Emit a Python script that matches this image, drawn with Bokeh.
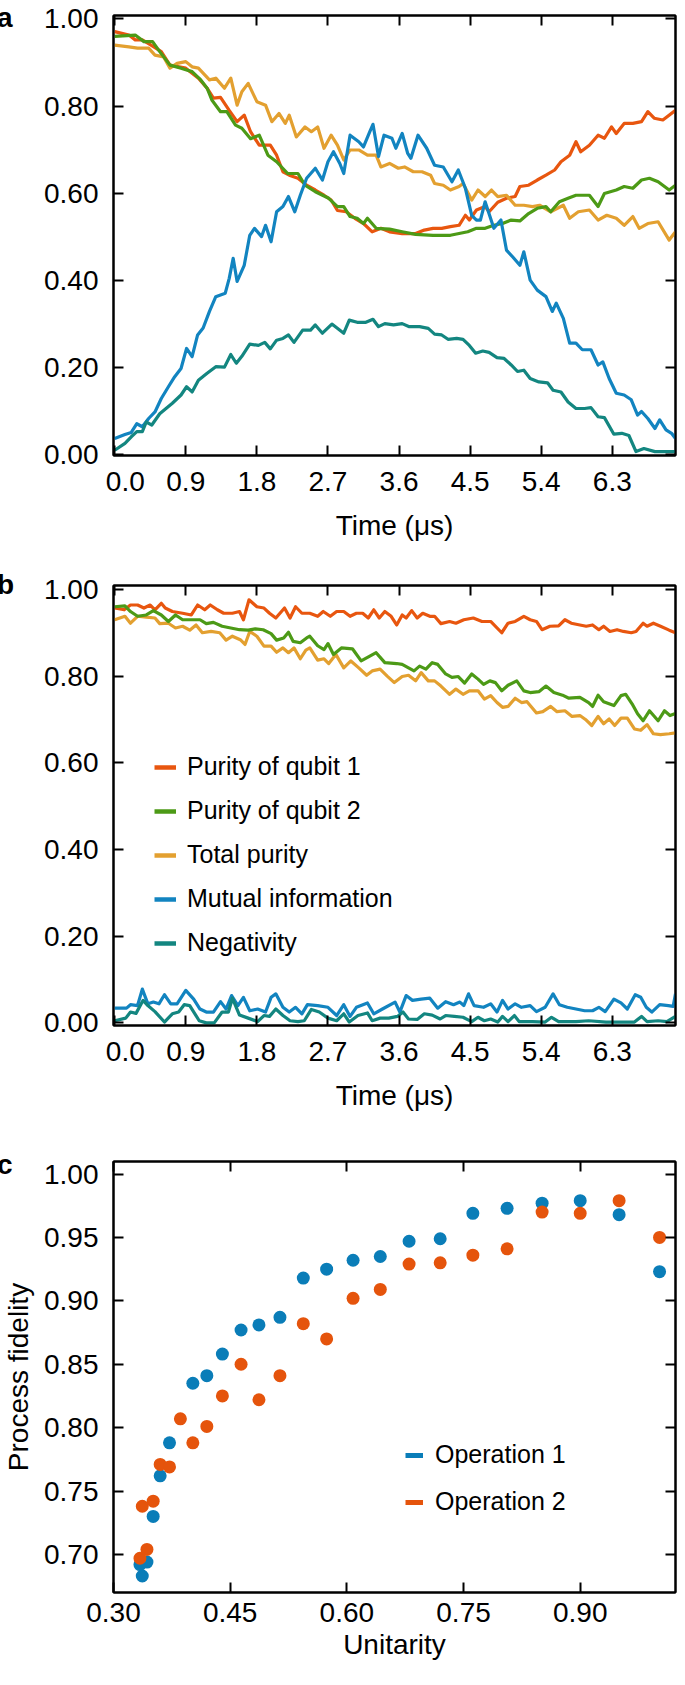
from bokeh.plotting import figure
from bokeh.models import (LinearAxis, FixedTicker, NumeralTickFormatter, Range1d,
                          Legend, LegendItem, Div)
from bokeh.layouts import column
from bokeh.embed import file_html
from bokeh.resources import INLINE

FONT = "Liberation Sans"
NAN = float("nan")

C_Q1 = "#E8560F"
C_Q2 = "#4C9A16"
C_TOT = "#E3A030"
C_MI = "#1284C0"
C_NEG = "#138680"
C_OP1 = "#0A7DB8"
C_OP2 = "#E5540C"

# ---------------- panel a: (time in us, value) ----------------
A_Q1 = [(0.00,0.971),(0.18,0.963),(0.26,0.952),(0.35,0.952),(0.46,0.940),(0.59,0.925),(0.70,0.894),(0.90,0.887),
        (1.06,0.864),(1.17,0.841),(1.25,0.818),(1.34,0.820),(1.45,0.790),(1.55,0.764),(1.64,0.779),(1.72,0.741),
        (1.83,0.710),(1.97,0.710),(2.05,0.687),(2.13,0.649),(2.21,0.641),(2.32,0.634),(2.43,0.618),(2.54,0.607),
        (2.65,0.595),(2.74,0.584),(2.82,0.560),(2.93,0.557),(3.04,0.542),(3.15,0.530),(3.26,0.511),(3.37,0.519),
        (3.48,0.511),(3.64,0.507),(3.81,0.507),(3.92,0.515),(4.03,0.519),(4.14,0.519),(4.25,0.523),(4.36,0.526),
        (4.44,0.549),(4.49,0.538),(4.58,0.561),(4.69,0.569),(4.74,0.557),(4.85,0.579),(4.96,0.588),(5.07,0.592),
        (5.13,0.615),(5.24,0.618),(5.35,0.630),(5.46,0.641),(5.57,0.653),(5.65,0.672),(5.76,0.687),(5.84,0.718),
        (5.90,0.695),(6.01,0.710),(6.12,0.733),(6.20,0.726),(6.29,0.752),(6.35,0.737),(6.45,0.760),(6.56,0.760),
        (6.67,0.764),(6.75,0.787),(6.83,0.772),(6.94,0.768),(7.10,0.790)]
A_Q2 = [(0.00,0.960),(0.26,0.963),(0.37,0.948),(0.48,0.948),(0.57,0.925),(0.70,0.894),(0.84,0.887),(0.98,0.879),
        (1.09,0.860),(1.17,0.841),(1.23,0.814),(1.34,0.787),(1.42,0.787),(1.53,0.756),(1.61,0.749),(1.72,0.725),
        (1.83,0.733),(1.94,0.687),(2.05,0.672),(2.19,0.645),(2.32,0.645),(2.41,0.618),(2.54,0.603),(2.71,0.588),
        (2.82,0.569),(2.90,0.569),(2.98,0.546),(3.07,0.542),(3.15,0.530),(3.20,0.542),(3.31,0.519),(3.48,0.517),
        (3.64,0.511),(3.81,0.505),(4.03,0.503),(4.25,0.503),(4.36,0.507),(4.47,0.511),(4.58,0.519),(4.69,0.519),
        (4.80,0.526),(4.91,0.530),(5.02,0.538),(5.13,0.536),(5.24,0.553),(5.35,0.565),(5.46,0.569),(5.52,0.557),
        (5.63,0.580),(5.74,0.588),(5.84,0.595),(6.01,0.595),(6.12,0.569),(6.20,0.599),(6.35,0.607),(6.45,0.615),
        (6.56,0.611),(6.67,0.630),(6.77,0.634),(6.88,0.626),(7.02,0.607),(7.10,0.618)]
A_TOT = [(0.00,0.940),(0.18,0.936),(0.29,0.933),(0.43,0.933),(0.51,0.917),(0.62,0.913),(0.70,0.887),(0.79,0.898),
         (0.90,0.902),(0.98,0.890),(1.06,0.887),(1.20,0.860),(1.28,0.864),(1.39,0.841),(1.47,0.864),(1.55,0.802),
         (1.61,0.833),(1.69,0.852),(1.80,0.810),(1.91,0.802),(1.99,0.764),(2.08,0.783),(2.16,0.760),(2.21,0.779),
         (2.30,0.729),(2.41,0.752),(2.49,0.741),(2.57,0.752),(2.65,0.703),(2.74,0.733),(2.82,0.710),(2.90,0.676),
         (2.98,0.699),(3.09,0.699),(3.20,0.687),(3.31,0.687),(3.37,0.660),(3.48,0.668),(3.59,0.657),(3.67,0.660),
         (3.78,0.649),(3.89,0.649),(4.00,0.641),(4.05,0.622),(4.16,0.618),(4.25,0.607),(4.36,0.615),(4.41,0.622),
         (4.52,0.584),(4.60,0.607),(4.69,0.592),(4.77,0.607),(4.85,0.592),(4.96,0.595),(5.07,0.572),(5.18,0.572),
         (5.29,0.569),(5.38,0.572),(5.52,0.557),(5.68,0.572),(5.76,0.542),(5.87,0.557),(6.01,0.561),(6.12,0.538),
         (6.23,0.549),(6.35,0.542),(6.45,0.526),(6.56,0.546),(6.64,0.519),(6.75,0.530),(6.88,0.534),(7.02,0.492),
         (7.10,0.511)]
A_MI = [(0.00,0.036),(0.13,0.045),(0.21,0.050),(0.28,0.070),(0.35,0.063),(0.43,0.082),(0.51,0.097),(0.59,0.128),
        (0.68,0.155),(0.76,0.178),(0.84,0.197),(0.91,0.243),(0.98,0.224),(1.05,0.274),(1.12,0.290),(1.20,0.328),
        (1.28,0.362),(1.40,0.370),(1.45,0.404),(1.50,0.450),(1.55,0.397),(1.64,0.434),(1.71,0.503),(1.77,0.519),
        (1.86,0.500),(1.91,0.526),(1.98,0.488),(2.05,0.557),(2.13,0.569),(2.20,0.592),(2.28,0.557),(2.35,0.595),
        (2.43,0.634),(2.54,0.657),(2.63,0.630),(2.70,0.672),(2.77,0.695),(2.85,0.668),(2.90,0.645),(2.98,0.733),
        (3.09,0.718),(3.15,0.706),(3.23,0.741),(3.27,0.758),(3.34,0.684),(3.41,0.733),(3.51,0.726),(3.56,0.703),
        (3.64,0.737),(3.71,0.691),(3.75,0.680),(3.84,0.733),(3.95,0.703),(4.05,0.664),(4.16,0.660),(4.27,0.626),
        (4.35,0.653),(4.44,0.611),(4.52,0.549),(4.58,0.538),(4.63,0.538),(4.69,0.580),(4.80,0.519),(4.89,0.538),
        (4.96,0.469),(5.04,0.453),(5.13,0.434),(5.18,0.465),(5.26,0.400),(5.35,0.377),(5.46,0.362),(5.54,0.328),
        (5.59,0.347),(5.68,0.312),(5.76,0.255),(5.84,0.255),(5.92,0.240),(6.03,0.240),(6.12,0.205),(6.18,0.212),
        (6.26,0.174),(6.35,0.140),(6.45,0.136),(6.54,0.125),(6.62,0.090),(6.67,0.098),(6.75,0.082),(6.84,0.059),
        (6.90,0.079),(6.98,0.056),(7.05,0.048),(7.10,0.036)]
A_NEG = [(0.00,0.009),(0.13,0.025),(0.21,0.040),(0.28,0.052),(0.35,0.052),(0.40,0.074),(0.47,0.067),(0.57,0.093),
         (0.65,0.105),(0.73,0.117),(0.84,0.136),(0.91,0.155),(0.98,0.143),(1.06,0.170),(1.17,0.186),(1.28,0.201),
         (1.39,0.200),(1.47,0.229),(1.54,0.209),(1.61,0.225),(1.71,0.253),(1.82,0.250),(1.90,0.257),(1.97,0.242),
         (2.05,0.262),(2.13,0.266),(2.20,0.274),(2.27,0.257),(2.38,0.285),(2.48,0.285),(2.54,0.297),(2.63,0.278),
         (2.75,0.299),(2.90,0.278),(2.97,0.308),(3.07,0.303),(3.18,0.303),(3.27,0.310),(3.34,0.293),(3.42,0.300),
         (3.53,0.297),(3.64,0.300),(3.73,0.293),(3.86,0.293),(3.97,0.289),(4.05,0.276),(4.14,0.274),(4.22,0.264),
         (4.33,0.266),(4.41,0.264),(4.49,0.250),(4.57,0.232),(4.66,0.237),(4.74,0.234),(4.84,0.222),(4.93,0.220),
         (5.02,0.205),(5.10,0.190),(5.18,0.193),(5.26,0.174),(5.37,0.166),(5.48,0.164),(5.55,0.147),(5.65,0.143),
         (5.74,0.120),(5.84,0.105),(5.95,0.105),(6.03,0.107),(6.12,0.086),(6.20,0.084),(6.32,0.046),(6.42,0.048),
         (6.51,0.043),(6.60,0.006),(6.70,0.013),(6.84,0.006),(7.10,0.006)]

# ---------------- panel b ----------------
B_Q1 = [(0.00,0.957),(0.12,0.953),(0.20,0.964),(0.29,0.964),(0.37,0.957),(0.45,0.964),(0.51,0.953),(0.59,0.968),
        (0.64,0.957),(0.73,0.949),(0.86,0.945),(0.97,0.941),(1.05,0.964),(1.14,0.953),(1.21,0.964),(1.30,0.953),
        (1.38,0.945),(1.49,0.945),(1.58,0.949),(1.63,0.930),(1.70,0.976),(1.80,0.960),(1.89,0.957),(1.96,0.945),
        (2.04,0.934),(2.15,0.957),(2.22,0.934),(2.29,0.960),(2.37,0.945),(2.47,0.945),(2.57,0.938),(2.64,0.949),
        (2.73,0.938),(2.81,0.949),(2.90,0.949),(2.98,0.938),(3.06,0.945),(3.14,0.945),(3.21,0.934),(3.28,0.953),
        (3.35,0.934),(3.42,0.949),(3.50,0.938),(3.57,0.918),(3.64,0.941),(3.69,0.934),(3.76,0.951),(3.83,0.934),
        (3.90,0.945),(3.99,0.938),(4.05,0.938),(4.13,0.921),(4.24,0.926),(4.32,0.922),(4.42,0.930),(4.54,0.934),
        (4.65,0.926),(4.76,0.926),(4.90,0.900),(4.98,0.922),(5.07,0.926),(5.18,0.938),(5.26,0.930),(5.34,0.926),
        (5.41,0.907),(5.51,0.915),(5.62,0.916),(5.70,0.930),(5.78,0.922),(5.89,0.918),(5.97,0.915),(6.05,0.918),
        (6.13,0.907),(6.19,0.915),(6.27,0.903),(6.36,0.907),(6.44,0.903),(6.54,0.900),(6.60,0.903),(6.69,0.922),
        (6.74,0.915),(6.82,0.922),(6.91,0.915),(7.02,0.906),(7.10,0.900)]
B_Q2 = [(0.00,0.960),(0.13,0.962),(0.20,0.949),(0.29,0.938),(0.40,0.941),(0.49,0.951),(0.59,0.941),(0.68,0.926),
        (0.77,0.941),(0.86,0.930),(0.97,0.930),(1.08,0.930),(1.16,0.921),(1.25,0.924),(1.36,0.915),(1.47,0.911),
        (1.58,0.907),(1.69,0.906),(1.78,0.909),(1.88,0.907),(1.98,0.898),(2.05,0.883),(2.14,0.888),(2.20,0.901),
        (2.26,0.880),(2.35,0.877),(2.43,0.888),(2.47,0.892),(2.57,0.870),(2.65,0.861),(2.70,0.875),(2.77,0.850),
        (2.87,0.865),(3.01,0.863),(3.12,0.835),(3.23,0.846),(3.31,0.854),(3.42,0.831),(3.57,0.829),(3.64,0.827),
        (3.72,0.819),(3.79,0.812),(3.86,0.823),(3.94,0.816),(4.02,0.831),(4.09,0.827),(4.19,0.805),(4.27,0.797),
        (4.35,0.799),(4.43,0.784),(4.52,0.805),(4.60,0.793),(4.67,0.781),(4.75,0.789),(4.82,0.785),(4.90,0.766),
        (4.98,0.779),(5.09,0.789),(5.18,0.766),(5.26,0.762),(5.37,0.764),(5.46,0.777),(5.56,0.762),(5.67,0.756),
        (5.75,0.749),(5.89,0.751),(6.00,0.739),(6.05,0.730),(6.12,0.756),(6.19,0.741),(6.32,0.732),(6.41,0.755),
        (6.47,0.758),(6.55,0.736),(6.62,0.713),(6.69,0.697),(6.77,0.720),(6.88,0.697),(6.96,0.720),(7.03,0.709),
        (7.10,0.714)]
B_TOT = [(0.00,0.930),(0.13,0.938),(0.20,0.922),(0.29,0.938),(0.40,0.936),(0.51,0.934),(0.57,0.921),(0.68,0.922),
         (0.77,0.911),(0.86,0.915),(0.95,0.906),(1.03,0.918),(1.11,0.900),(1.22,0.903),(1.33,0.900),(1.41,0.883),
         (1.49,0.892),(1.59,0.884),(1.65,0.873),(1.71,0.903),(1.80,0.892),(1.89,0.869),(1.98,0.869),(2.05,0.855),
         (2.13,0.865),(2.20,0.854),(2.27,0.865),(2.35,0.840),(2.42,0.860),(2.47,0.865),(2.57,0.837),(2.65,0.840),
         (2.71,0.829),(2.80,0.850),(2.90,0.819),(2.99,0.835),(3.09,0.819),(3.19,0.802),(3.26,0.812),(3.36,0.816),
         (3.45,0.800),(3.54,0.785),(3.64,0.799),(3.72,0.802),(3.81,0.789),(3.88,0.808),(3.97,0.789),(4.05,0.789),
         (4.13,0.777),(4.24,0.758),(4.32,0.770),(4.41,0.758),(4.49,0.766),(4.60,0.766),(4.68,0.747),(4.76,0.755),
         (4.84,0.739),(4.91,0.728),(4.98,0.730),(5.07,0.749),(5.15,0.739),(5.22,0.741),(5.34,0.715),(5.42,0.718),
         (5.52,0.730),(5.60,0.718),(5.70,0.720),(5.79,0.707),(5.89,0.709),(5.96,0.700),(6.04,0.686),(6.12,0.707),
         (6.19,0.690),(6.26,0.701),(6.33,0.686),(6.41,0.703),(6.49,0.703),(6.58,0.678),(6.66,0.675),(6.74,0.688),
         (6.82,0.667),(6.91,0.665),(7.02,0.667),(7.10,0.669)]
B_MI = [(0.00,0.034),(0.15,0.034),(0.20,0.042),(0.29,0.040),(0.35,0.078),(0.42,0.044),(0.49,0.048),(0.56,0.044),
        (0.63,0.065),(0.71,0.044),(0.79,0.044),(0.90,0.075),(1.00,0.055),(1.08,0.032),(1.16,0.025),(1.25,0.025),
        (1.34,0.049),(1.41,0.032),(1.48,0.063),(1.56,0.040),(1.63,0.059),(1.71,0.028),(1.81,0.032),(1.91,0.025),
        (1.98,0.059),(2.04,0.067),(2.13,0.036),(2.21,0.025),(2.29,0.036),(2.37,0.021),(2.44,0.042),(2.57,0.040),
        (2.70,0.036),(2.81,0.017),(2.90,0.042),(2.98,0.015),(3.06,0.036),(3.20,0.046),(3.28,0.021),(3.39,0.032),
        (3.55,0.048),(3.61,0.025),(3.69,0.063),(3.77,0.052),(3.88,0.055),(3.99,0.057),(4.09,0.034),(4.19,0.049),
        (4.29,0.042),(4.37,0.048),(4.42,0.040),(4.48,0.067),(4.55,0.040),(4.67,0.036),(4.76,0.044),(4.84,0.025),
        (4.91,0.052),(4.98,0.032),(5.07,0.044),(5.15,0.036),(5.26,0.040),(5.34,0.026),(5.45,0.036),(5.55,0.067),
        (5.63,0.042),(5.73,0.036),(5.84,0.032),(5.95,0.028),(6.05,0.028),(6.13,0.036),(6.21,0.026),(6.32,0.055),
        (6.41,0.046),(6.49,0.032),(6.59,0.065),(6.66,0.059),(6.73,0.036),(6.80,0.025),(6.90,0.042),(7.01,0.040),
        (7.07,0.038),(7.10,0.067)]
B_NEG = [(0.00,0.005),(0.14,0.011),(0.20,0.025),(0.27,0.022),(0.36,0.052),(0.42,0.040),(0.51,0.026),(0.63,0.002),
         (0.73,0.021),(0.81,0.025),(0.88,0.042),(0.95,0.040),(1.07,0.005),(1.16,0.000),(1.26,0.000),(1.36,0.025),
         (1.44,0.025),(1.49,0.057),(1.58,0.018),(1.69,0.011),(1.81,0.003),(1.89,0.017),(1.96,0.015),(2.04,0.032),
         (2.13,0.017),(2.22,0.005),(2.32,0.003),(2.40,0.005),(2.49,0.031),(2.59,0.025),(2.70,0.011),(2.81,0.005),
         (2.90,0.021),(2.97,0.002),(3.08,0.017),(3.20,0.023),(3.26,0.005),(3.36,0.011),(3.47,0.011),(3.58,0.015),
         (3.65,0.025),(3.72,0.009),(3.83,0.008),(3.92,0.021),(4.02,0.018),(4.12,0.009),(4.19,0.017),(4.30,0.015),
         (4.41,0.013),(4.52,0.003),(4.60,0.013),(4.68,0.005),(4.76,0.009),(4.85,0.002),(4.91,0.015),(4.98,0.003),
         (5.06,0.017),(5.12,0.003),(5.29,0.003),(5.45,0.002),(5.53,0.013),(5.62,0.003),(5.84,0.003),(6.00,0.005),
         (6.22,0.002),(6.44,0.002),(6.58,0.002),(6.67,0.015),(6.74,0.003),(6.88,0.005),(6.99,0.003),(7.10,0.015)]

# ---------------- panel c: (unitarity, process fidelity) ----------------
C_OP1_PTS = [(0.334,0.692),(0.337,0.683),(0.343,0.694),(0.351,0.730),(0.360,0.762),(0.372,0.788),(0.402,0.835),
             (0.420,0.841),(0.440,0.858),(0.464,0.877),(0.487,0.881),(0.514,0.887),(0.544,0.918),(0.574,0.925),
             (0.608,0.932),(0.643,0.935),(0.680,0.947),(0.720,0.949),(0.762,0.969),(0.806,0.973),(0.851,0.977),
             (0.900,0.979),(0.950,0.968),(1.002,0.923)]
C_OP2_PTS = [(0.334,0.697),(0.337,0.738),(0.343,0.704),(0.351,0.742),(0.360,0.771),(0.372,0.769),(0.386,0.807),
             (0.402,0.788),(0.420,0.801),(0.440,0.825),(0.464,0.850),(0.487,0.822),(0.514,0.841),(0.544,0.882),
             (0.574,0.870),(0.608,0.902),(0.643,0.909),(0.680,0.929),(0.720,0.930),(0.762,0.936),(0.806,0.941),
             (0.851,0.970),(0.900,0.969),(0.950,0.979),(1.002,0.950)]

TIME_TICKS = [0.0, 0.9, 1.8, 2.7, 3.6, 4.5, 5.4, 6.3]
AB_Y_TICKS = [0.0, 0.2, 0.4, 0.6, 0.8, 1.0]
C_X_TICKS = [0.30, 0.45, 0.60, 0.75, 0.90]
C_Y_TICKS = [0.70, 0.75, 0.80, 0.85, 0.90, 0.95, 1.00]

LEG_B = ["Purity of qubit 1", "Purity of qubit 2", "Total purity", "Mutual information", "Negativity"]
LEG_C = ["Operation 1", "Operation 2"]
PANEL_LETTERS = ["a", "b", "c"]

FIG_W = 677
BORDER_L = 108
BORDER_R = 2


def split(pts):
    return [p[0] for p in pts], [p[1] for p in pts]


def make_fig(height, xr, yr, top, bottom):
    p = figure(width=FIG_W, height=height, x_range=Range1d(*xr), y_range=Range1d(*yr),
               output_backend="svg", toolbar_location=None,
               min_border_left=BORDER_L, min_border_right=BORDER_R,
               min_border_top=top, min_border_bottom=bottom)
    p.xgrid.visible = False
    p.ygrid.visible = False
    p.outline_line_color = "black"
    p.outline_line_width = 2
    p.outline_line_alpha = 1.0
    p.background_fill_color = "white"
    p.border_fill_color = "white"
    return p


def style_axis(ax, ticks, fmt, label=None, standoff=10, label_standoff=10):
    ax.ticker = FixedTicker(ticks=ticks)
    ax.formatter = NumeralTickFormatter(format=fmt)
    ax.major_tick_in = 10
    ax.major_tick_out = 0
    ax.minor_tick_in = 0
    ax.minor_tick_out = 0
    ax.major_tick_line_width = 2
    ax.major_tick_line_color = "black"
    ax.axis_line_width = 2
    ax.axis_line_color = "black"
    ax.major_label_text_font = FONT
    ax.major_label_text_font_size = "28px"
    ax.major_label_text_color = "black"
    ax.major_label_standoff = standoff
    if label is not None:
        ax.axis_label = label
        ax.axis_label_text_font = FONT
        ax.axis_label_text_font_size = "28px"
        ax.axis_label_text_font_style = "normal"
        ax.axis_label_text_color = "black"
        ax.axis_label_standoff = label_standoff


def mirror(p, xticks, yticks):
    # tick marks on the top and right frame edges, without labels
    for ticks, side in ((xticks, "above"), (yticks, "right")):
        ax = LinearAxis(ticker=FixedTicker(ticks=ticks), major_label_text_font_size="0px",
                        major_label_text_color=None, major_label_text_alpha=0,
                        major_label_standoff=0, major_tick_in=10, major_tick_out=0,
                        minor_tick_in=0, minor_tick_out=0, major_tick_line_width=2,
                        axis_line_width=2, axis_line_color="black", major_tick_line_color="black")
        p.add_layout(ax, side)


def letter(text, top_px):
    # bold panel letter taken out of the flow (it keeps the column's top-left as origin)
    return Div(text=text, width=30, height=28,
               styles={"position": "absolute", "margin-top": f"{top_px}px", "margin-left": "-3px",
                       "z-index": "10", "overflow": "visible", "font-family": FONT, "font-size": "28px",
                       "font-weight": "bold", "line-height": "28px", "color": "black"})


def time_panel(series, height, top, bottom, yr):
    p = make_fig(height, (-0.015, 7.1), yr, top, bottom)
    style_axis(p.xaxis[0], TIME_TICKS, "0.0", "Time (\u03bcs)")
    p.xaxis[0].major_label_overrides = {0.0: "\u2007\u20090.0"}
    style_axis(p.yaxis[0], AB_Y_TICKS, "0.00", None, standoff=15)
    mirror(p, TIME_TICKS, AB_Y_TICKS)
    for pts, col in series:
        t, v = split(pts)
        p.line(t, v, line_color=col, line_width=3.2, line_join="round")
    return p


def key_legend(p, names, colors, loc, width, lw, spacing, standoff):
    items = []
    for name, col in zip(names, colors):
        r = p.line([NAN], [NAN], line_color=col, line_width=lw)   # legend key only
        items.append(LegendItem(label=name, renderers=[r]))
    p.add_layout(Legend(items=items, location=loc, label_text_font=FONT, label_text_font_size="25px",
                        label_text_color="black", glyph_width=width, glyph_height=20, label_height=20,
                        label_standoff=standoff, spacing=spacing, padding=0, margin=0,
                        border_line_alpha=0, background_fill_alpha=0))


# panel a
pa = time_panel([(A_Q1, C_Q1), (A_TOT, C_TOT), (A_Q2, C_Q2), (A_MI, C_MI), (A_NEG, C_NEG)],
                554, 15, 99, (-0.003, 1.008))

# panel b
pb = time_panel([(B_Q1, C_Q1), (B_TOT, C_TOT), (B_Q2, C_Q2), (B_MI, C_MI), (B_NEG, C_NEG)],
                578, 31, 107, (-0.006, 1.009))
key_legend(pb, LEG_B, [C_Q1, C_Q2, C_TOT, C_MI, C_NEG], (41, 68), 22, 4.5, 15, 11)

# panel c
pc = make_fig(537, (0.30, 1.0225), (0.670, 1.0099), 29, 77)
style_axis(pc.xaxis[0], C_X_TICKS, "0.00", "Unitarity", standoff=10, label_standoff=4)
style_axis(pc.yaxis[0], C_Y_TICKS, "0.00", "Process fidelity", standoff=15, label_standoff=7)
mirror(pc, C_X_TICKS, C_Y_TICKS)
u1, f1 = split(C_OP1_PTS)
u2, f2 = split(C_OP2_PTS)
pc.scatter(u1, f1, size=13, fill_color=C_OP1, line_color=None)
pc.scatter(u2, f2, size=13, fill_color=C_OP2, line_color=None)
key_legend(pc, LEG_C, [C_OP1, C_OP2], (292, 76), 18, 5, 18, 12)

# letters are absolutely positioned from the column's top-left corner
layout = column(letter(PANEL_LETTERS[0], 4),
                letter(PANEL_LETTERS[1], 571),
                letter(PANEL_LETTERS[2], 1151),
                pa, pb, pc)
open("out.html", "w").write(file_html(layout, INLINE))
